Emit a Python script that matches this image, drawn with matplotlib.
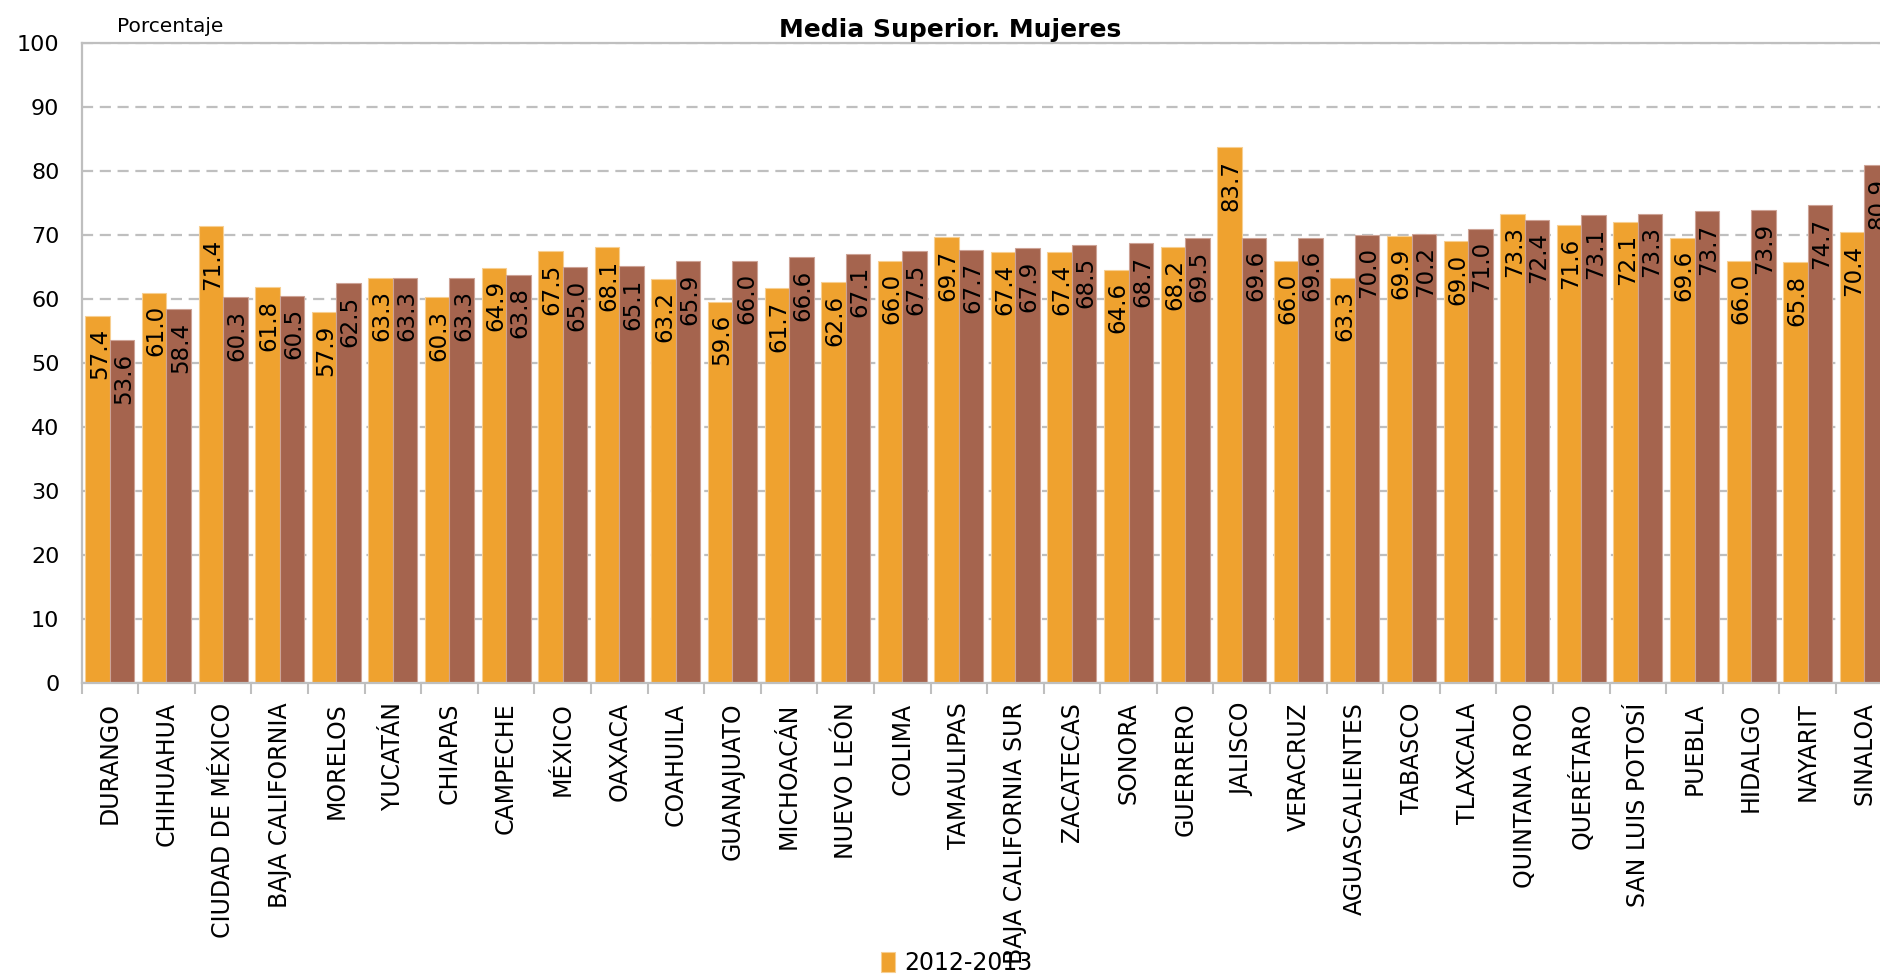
import matplotlib
matplotlib.use("Agg")
import matplotlib.pyplot as plt
import numpy as np
from matplotlib.ticker import FixedLocator

# Media superior, mujeres: porcentaje por entidad
STATES = [
    "DURANGO", "CHIHUAHUA", "CIUDAD DE MÉXICO", "BAJA CALIFORNIA", "MORELOS",
    "YUCATÁN", "CHIAPAS", "CAMPECHE", "MÉXICO", "OAXACA", "COAHUILA",
    "GUANAJUATO", "MICHOACÁN", "NUEVO LEÓN", "COLIMA", "TAMAULIPAS",
    "BAJA CALIFORNIA SUR", "ZACATECAS", "SONORA", "GUERRERO", "JALISCO",
    "VERACRUZ", "AGUASCALIENTES", "TABASCO", "TLAXCALA", "QUINTANA ROO",
    "QUERÉTARO", "SAN LUIS POTOSÍ", "PUEBLA", "HIDALGO", "NAYARIT", "SINALOA",
]
VALS_2012 = [
    57.4, 61.0, 71.4, 61.8, 57.9, 63.3, 60.3, 64.9, 67.5, 68.1, 63.2,
    59.6, 61.7, 62.6, 66.0, 69.7, 67.4, 67.4, 64.6, 68.2, 83.7,
    66.0, 63.3, 69.9, 69.0, 73.3, 71.6, 72.1, 69.6, 66.0, 65.8, 70.4,
]
VALS_LATEST = [
    53.6, 58.4, 60.3, 60.5, 62.5, 63.3, 63.3, 63.8, 65.0, 65.1, 65.9,
    66.0, 66.6, 67.1, 67.5, 67.7, 67.9, 68.5, 68.7, 69.5, 69.6,
    69.6, 70.0, 70.2, 71.0, 72.4, 73.1, 73.3, 73.7, 73.9, 74.7, 80.9,
]
LEGEND_LABEL = "2012-2013"

ORANGE = "#EFA22F"
BROWN = "#A5644E"
GRID = "#BFBFBF"

W, H, DPI = 1881, 974, 100


def main():
    fig = plt.figure(figsize=(W / DPI, H / DPI), dpi=DPI)
    # axes runs slightly past the right edge, as in the original
    ax = fig.add_axes([81.6 / W, 1 - 683 / H, 1811 / W, 640 / H])

    x = np.arange(len(STATES))
    bw = 0.433
    b1 = ax.bar(x - bw / 2, VALS_2012, bw, color=ORANGE,
                edgecolor="#F7CF92", lw=0.8, zorder=2)
    b2 = ax.bar(x + bw / 2, VALS_LATEST, bw, color=BROWN,
                edgecolor="#CDA396", lw=0.8, zorder=2)

    for bars, vals in ((b1, VALS_2012), (b2, VALS_LATEST)):
        for rect, v in zip(bars, vals):
            ax.annotate(f"{v:.1f}", xy=(rect.get_x() + rect.get_width() / 2 + 0.03, v),
                        xytext=(0, -9), textcoords="offset points",
                        rotation=90, ha="center", va="top", fontsize=16.5,
                        color="black", zorder=3)

    ax.set_xlim(-0.5, len(STATES) - 0.5)
    ax.set_ylim(0, 100)
    ax.set_yticks(range(0, 101, 10))
    ax.yaxis.grid(True, color=GRID, lw=1.6, ls=(0, (5, 3)), zorder=0)
    ax.tick_params(axis="y", length=0, pad=16, labelsize=16)

    ax.set_xticks(x)
    ax.set_xticklabels(STATES, rotation=90, fontsize=17)
    ax.xaxis.set_minor_locator(FixedLocator(np.arange(-0.5, len(STATES), 1.0)))
    ax.tick_params(axis="x", which="major", length=0, pad=14)
    ax.tick_params(axis="x", which="minor", length=8, width=1.5, color=GRID)

    for side in ("left", "bottom", "top"):
        ax.spines[side].set_color(GRID)
        ax.spines[side].set_linewidth(1.6)
    ax.spines["right"].set_visible(False)

    fig.text(950 / W, 1 - 37 / H, "Media Superior. Mujeres", ha="center",
             va="baseline", fontsize=18, fontweight="bold")
    fig.text(117 / W, 1 - 32 / H, "Porcentaje", ha="left", va="baseline",
             fontsize=14.5)

    fig.legend([b1], [LEGEND_LABEL], loc="upper left",
               bbox_to_anchor=(881 / W, 1 - 951 / H), frameon=False,
               fontsize=17, handlelength=0.6, handleheight=0.9,
               handletextpad=0.4, borderaxespad=0, borderpad=0)

    fig.savefig("out.png", dpi=DPI)


if __name__ == "__main__":
    main()
